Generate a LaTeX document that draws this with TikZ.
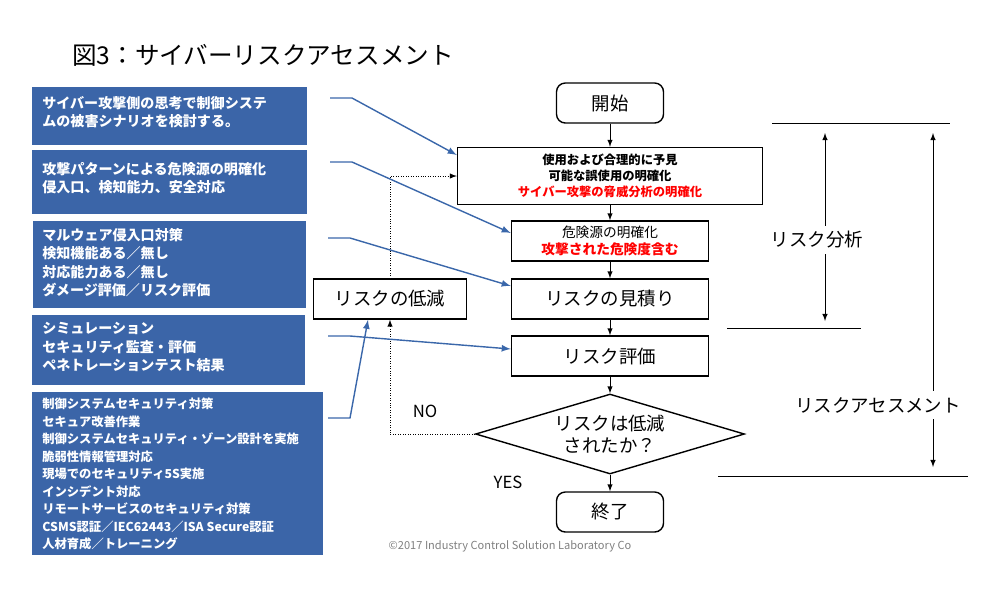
\documentclass[tikz,border=0pt]{standalone}
\usepackage{fontspec}
\setmainfont{Noto Sans CJK JP}
\usetikzlibrary{shapes.geometric,positioning}
\definecolor{boxblue}{RGB}{59,101,168}
\definecolor{lineblue}{RGB}{58,103,170}
\tikzstyle{bluebox}=[fill=boxblue, text=white, align=left, anchor=north west, inner sep=0pt, font=\fontsize{8}{10.5}\selectfont\bfseries]
\tikzstyle{stepbox}=[draw, thick, minimum height=0.8cm, align=center, inner sep=1pt]
\tikzstyle{term}=[stepbox, rounded corners=5pt, minimum width=2.14cm, font=\fontsize{10.5}{12}\selectfont]
\tikzstyle{feed}=[draw=lineblue, thick, -latex]
\tikzstyle{flow}=[draw, -latex]
\tikzstyle{back}=[draw, densely dotted, -latex]
\tikzstyle{span}=[draw, latex-latex]
\begin{document}
\begin{tikzpicture}[x=0.02cm, y=-0.02cm]
            \useasboundingbox (0,0) rectangle (1000,600);
            \node[font=\fontsize{14}{16}\selectfont] (title) at (263,55) {図3：サイバーリスクアセスメント};

            % left boxes
            \begin{scope}[every node/.style={bluebox}]
                \fill[boxblue] (32,87) rectangle (307,145);
                \node (b1) at (42,96) {サイバー攻撃側の思考で制御システ\\ムの被害シナリオを検討する。};
                \fill[boxblue] (32,150) rectangle (307,214);
                \node (b2) at (42,162) {攻撃パターンによる危険源の明確化\\侵入口、検知能力、安全対応};
                \fill[boxblue] (33,221) rectangle (306,308);
                \node (b3) at (42,228) {マルウェア侵入口対策\\検知機能ある／無し\\対応能力ある／無し\\ダメージ評価／リスク評価};
                \fill[boxblue] (32,315) rectangle (305,385);
                \node (b4) at (42,322) {シミュレーション\\セキュリティ監査・評価\\ペネトレーションテスト結果};
                \fill[boxblue] (32,392) rectangle (323,555);
                \node[font=\fontsize{7}{9.95}\selectfont\bfseries] (b5) at (42,398) {制御システムセキュリティ対策\\セキュア改善作業\\制御システムセキュリティ・ゾーン設計を実施\\脆弱性情報管理対応\\現場でのセキュリティ5S実施\\インシデント対応\\リモートサービスのセキュリティ対策\\CSMS認証／IEC62443／ISA Secure認証\\人材育成／トレーニング};
            \end{scope}

            % flow
            \node[term] (start) at (610,103) {開始};
            \node[stepbox, minimum width=6.1cm, minimum height=1.14cm, font=\fontsize{7}{9}\selectfont\bfseries] (use) at (610,176) {使用および合理的に予見\\可能な誤使用の明確化\\\textcolor{red}{サイバー攻撃の脅威分析の明確化}};
            \node[stepbox, minimum width=3.94cm, font=\fontsize{7.8}{10}\selectfont] (hazard) at (610,241) {危険源の明確化\\\textcolor{red}{\bfseries 攻撃された危険度含む}};
            \node[stepbox, minimum width=3.94cm, font=\fontsize{10.5}{12}\selectfont] (est) at (610,299) {リスクの見積り};
            \node[stepbox, minimum width=3.94cm, font=\fontsize{10.5}{12}\selectfont] (eval) at (610,356) {リスク評価};
            \node[draw, thick, diamond, aspect=3.4, inner sep=0pt, minimum width=5.38cm, minimum height=1.6cm, align=center, font=\fontsize{10.5}{12.5}\selectfont] (done) at (610,434) {リスクは低減\\されたか？};
            \node[term] (end) at (610,512) {終了};
            \node[stepbox, minimum width=3.06cm, font=\fontsize{10.5}{12}\selectfont] (reduce) at (390,299) {リスクの低減};

            \path[flow] (start) -- (use);
            \path[flow] (use) -- (hazard);
            \path[flow] (hazard) -- (est);
            \path[flow] (est) -- (eval);
            \path[flow] (eval) -- (done);
            \path[flow] (done) -- (end);
            \path[back] (done.west) -| (reduce.south);
            \path[back] (reduce.north) |- (use.west);
            \node[font=\fontsize{9.5}{11}\selectfont] (no) at (425,411) {NO};
            \node[font=\fontsize{9.5}{11}\selectfont] (yes) at (508,482) {YES};

            % feed arrows
            \coordinate (f1) at (330,98);
            \coordinate (f2) at (330,162);
            \coordinate (f3) at (328,238);
            \coordinate (f4) at (328,336);
            \coordinate (f5) at (328,418);
            \path[feed] (f1) -- (352,98) -- (use.north west |- 0,155);
            \path[feed] (f2) -- (352,162) -- (hazard.west |- 0,233);
            \path[feed] (f3) -- (350,238) -- (est.west |- 0,286);
            \path[feed] (f4) -- (350,336) -- (eval.west |- 0,349);
            \path[feed] (f5) -- (350,418) -- (reduce.south -| 368,0);

            % ranges
            \coordinate (t1) at (772,123);
            \coordinate (t2) at (950,123);
            \coordinate (m1) at (727,328);
            \coordinate (m2) at (861,328);
            \coordinate (e1) at (718,476);
            \coordinate (e2) at (968,476);
            \draw (t1) -- (t2);
            \draw (m1) -- (m2);
            \draw (e1) -- (e2);
            \coordinate (a1) at (825,133);
            \coordinate (a2) at (825,321);
            \coordinate (c1) at (933,133);
            \coordinate (c2) at (933,467);
            \path[span] (a1) -- (a2);
            \path[span] (c1) -- (c2);
            \node[fill=white, font=\fontsize{10.5}{12}\selectfont] (ana) at (817,240) {リスク分析};
            \node[fill=white, font=\fontsize{10.5}{12}\selectfont] (ass) at (878,405) {リスクアセスメント};

            \node[text=gray, font=\fontsize{6.3}{8}\selectfont] (copy) at (510,546) {©2017 Industry Control Solution Laboratory Co};
        \end{tikzpicture}
\end{document}
